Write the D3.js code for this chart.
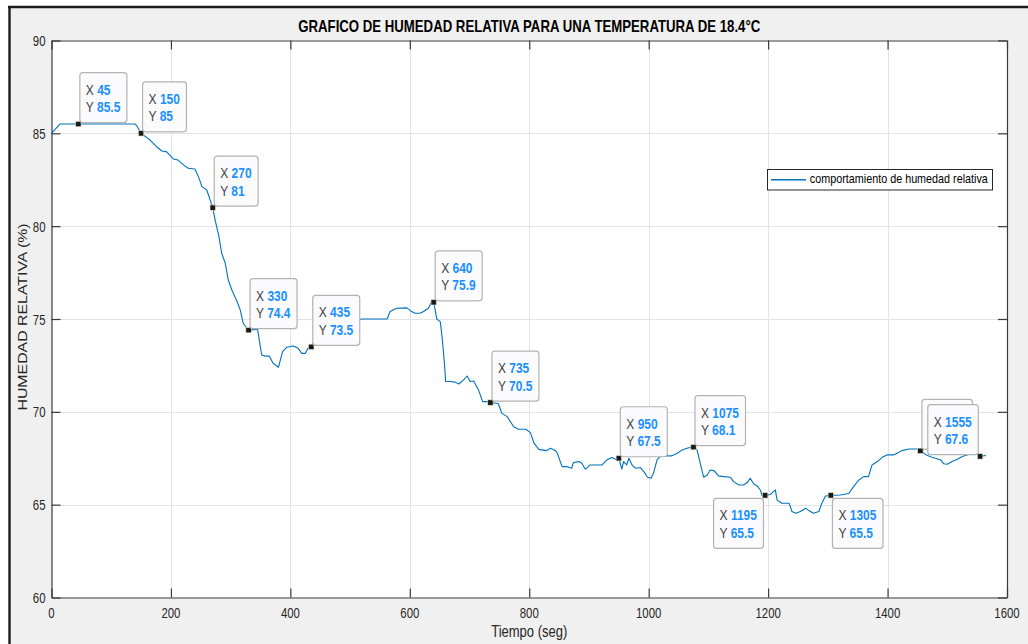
<!DOCTYPE html>
<html>
<head>
<meta charset="utf-8">
<script src="https://cdn.jsdelivr.net/npm/d3@7"></script>
<style>
  html, body { margin: 0; padding: 0; background: #ffffff; }
  svg { display: block; font-family: "Liberation Sans", Arial, Helvetica, sans-serif; }
</style>
</head>
<body>
<svg id="fig" width="1028" height="644"></svg>
<script>
// Humedad relativa medida en el tiempo (T = 18.4 °C)
const tiempo = [
  0, 14, 45, 100, 140, 143, 150, 165, 176, 185, 193, 204, 212, 221, 229, 240, 246, 252, 260, 270,
  274, 280, 285, 291, 296, 302, 310, 316, 321, 327, 330, 345, 352, 358, 365, 371, 380, 387, 394, 405,
  413, 419, 425, 430, 435, 441, 455, 480, 505, 520, 562, 567, 578, 595, 603, 609, 617, 623, 631, 637,
  640, 643, 645, 651, 654, 658, 660, 668, 676, 682, 690, 696, 701, 707, 715, 722, 732, 735, 748, 754,
  763, 774, 782, 794, 802, 808, 816, 828, 836, 844, 847, 855, 863, 871, 874, 883, 888, 894, 899, 902,
  922, 930, 938, 947, 950, 955, 958, 963, 967, 972, 978, 986, 992, 998, 1004, 1008, 1014, 1019, 1028, 1039,
  1048, 1056, 1064, 1071, 1075, 1081, 1085, 1089, 1092, 1098, 1103, 1110, 1117, 1126, 1137, 1142, 1151, 1159, 1165, 1170,
  1176, 1182, 1187, 1190, 1195, 1204, 1212, 1215, 1223, 1235, 1240, 1246, 1254, 1263, 1268, 1276, 1285, 1290, 1296, 1305,
  1321, 1335, 1343, 1352, 1360, 1368, 1374, 1383, 1391, 1399, 1410, 1416, 1424, 1436, 1452, 1455, 1465, 1474, 1480, 1489,
  1494, 1500, 1508, 1517, 1525, 1533, 1544, 1553, 1555, 1565
];
const humedad = [
  85.0, 85.5, 85.5, 85.5, 85.5, 85.4, 85.0, 84.64, 84.28, 84.05, 84.0, 83.62, 83.56, 83.3, 83.12, 83.08, 82.67, 82.13, 81.95, 81.0,
  80.33, 79.5, 78.54, 78.0, 77.1, 76.56, 76.0, 75.49, 74.77, 74.5, 74.4, 74.45, 73.06, 73.0, 73.0, 72.62, 72.4, 73.24, 73.48, 73.55,
  73.42, 73.15, 73.15, 73.45, 73.5, 73.87, 74.2, 74.7, 74.9, 75.0, 75.0, 75.4, 75.58, 75.6, 75.4, 75.31, 75.31, 75.4, 75.58, 75.94,
  75.9, 75.4, 75.0, 74.86, 74.05, 72.62, 71.63, 71.63, 71.6, 71.5, 71.72, 71.93, 71.63, 71.66, 71.18, 70.55, 70.55, 70.5, 70.45, 69.93,
  69.74, 69.2, 69.06, 69.06, 68.88, 68.31, 67.98, 67.91, 68.04, 67.91, 67.77, 67.05, 67.05, 66.96, 67.27, 67.32, 67.23, 66.91, 67.05, 67.14,
  67.14, 67.41, 67.54, 67.41, 67.5, 66.91, 67.32, 67.14, 67.5, 67.14, 66.96, 67.0, 66.78, 66.48, 66.42, 66.7, 67.41, 67.59, 67.63, 67.63,
  67.77, 67.95, 68.04, 68.09, 68.1, 67.95, 67.41, 66.87, 66.48, 66.6, 66.87, 66.82, 66.55, 66.51, 66.48, 66.24, 66.06, 66.06, 66.19, 66.42,
  66.11, 66.0, 65.79, 65.47, 65.5, 65.55, 65.8, 65.26, 65.08, 65.08, 64.63, 64.54, 64.63, 64.81, 64.68, 64.54, 64.63, 65.08, 65.47, 65.5,
  65.52, 65.6, 65.97, 66.33, 66.51, 66.51, 67.14, 67.32, 67.55, 67.68, 67.68, 67.77, 67.91, 68.0, 68.0, 67.9, 67.68, 67.55, 67.5, 67.41,
  67.2, 67.18, 67.32, 67.45, 67.59, 67.68, 67.77, 67.68, 67.6, 67.65
];

// Puntos marcados (data tips), esquina desde la que se abre cada recuadro,
// y si su texto queda a la vista (el de 1455 queda tapado por el de 1555)
const tipX    = [45, 150, 270, 330, 435, 640, 735, 950, 1075, 1195, 1305, 1455, 1555];
const tipY    = [85.5, 85, 81, 74.4, 73.5, 75.9, 70.5, 67.5, 68.1, 65.5, 65.5, 67.9, 67.6];
const tipDir  = ["ur", "ur", "ur", "ur", "ur", "ur", "ur", "ur", "ur", "ll", "lr", "ur", "ul"];
const tipShow = [true, true, true, true, true, true, true, true, true, true, true, false, true];

const xTicks = [0, 200, 400, 600, 800, 1000, 1200, 1400, 1600];
const yTicks = [60, 65, 70, 75, 80, 85, 90];

const titulo = "GRAFICO DE HUMEDAD RELATIVA PARA UNA TEMPERATURA DE 18.4°C";
const etiquetaX = "Tiempo (seg)";
const etiquetaY = "HUMEDAD RELATIVA (%)";
const leyenda = "comportamiento de humedad relativa";

// ---- layout ----
const SY = 1.22;               // tall glyph proportions
const L = 51.5, R = 1007, T = 40.5, B = 597.5;
const lineColor = "#0072BD";
const valueColor = "#1a8fff";
const axisColor = "#3a3a3a";
const tickTextColor = "#262626";

const x = d3.scaleLinear().domain([0, 1600]).range([L, R]);
const y = d3.scaleLinear().domain([60, 90]).range([B, T]);

const svg = d3.select("#fig");

// figure background with window border
svg.append("rect").attr("x", 9).attr("y", 7).attr("width", 1019).attr("height", 637).attr("fill", "#f0f0f0");
svg.append("line").attr("x1", 9.5).attr("x2", 9.5).attr("y1", 6).attr("y2", 644).attr("stroke", "#1a1a1a").attr("stroke-width", 2.4);
svg.append("line").attr("x1", 8).attr("x2", 1028).attr("y1", 7).attr("y2", 7).attr("stroke", "#1a1a1a").attr("stroke-width", 2.4);

// axes area
svg.append("rect").attr("x", L).attr("y", T).attr("width", R - L).attr("height", B - T).attr("fill", "#ffffff");

// grid
const grid = svg.append("g").attr("stroke", "#e3e3e3").attr("stroke-width", 1);
grid.selectAll(".gx").data(xTicks.slice(1, -1)).join("line")
  .attr("x1", d => Math.round(x(d)) + 0.5).attr("x2", d => Math.round(x(d)) + 0.5)
  .attr("y1", T).attr("y2", B);
grid.selectAll(".gy").data(yTicks.slice(1, -1)).join("line")
  .attr("y1", d => Math.round(y(d)) + 0.5).attr("y2", d => Math.round(y(d)) + 0.5)
  .attr("x1", L).attr("x2", R);

// helper: text with tall proportions
function tallText(parent, px, py, str, opts = {}) {
  return parent.append("text")
    .attr("transform", `translate(${px},${py}) scale(1,${SY})`)
    .attr("font-size", opts.size || 12)
    .attr("fill", opts.fill || "#000")
    .attr("text-anchor", opts.anchor || "start")
    .attr("font-weight", opts.weight || "normal")
    .text(str);
}

// axes with inward ticks
function styleAxis(g) {
  g.select(".domain").attr("stroke", axisColor).attr("stroke-width", 1.2);
  g.selectAll(".tick line").attr("stroke", axisColor).attr("stroke-width", 1.2);
  g.selectAll(".tick text").remove();
}
const axB = svg.append("g").attr("transform", `translate(0,${B})`)
  .call(d3.axisBottom(x).tickValues(xTicks).tickSizeInner(-9).tickSizeOuter(0));
styleAxis(axB);
const axT = svg.append("g").attr("transform", `translate(0,${T})`)
  .call(d3.axisTop(x).tickValues(xTicks).tickSizeInner(-9).tickSizeOuter(0));
styleAxis(axT);
const axL = svg.append("g").attr("transform", `translate(${L},0)`)
  .call(d3.axisLeft(y).tickValues(yTicks).tickSizeInner(-9).tickSizeOuter(0));
styleAxis(axL);
const axR = svg.append("g").attr("transform", `translate(${R},0)`)
  .call(d3.axisRight(y).tickValues(yTicks).tickSizeInner(-9).tickSizeOuter(0));
styleAxis(axR);

// tick labels
const tl = svg.append("g");
xTicks.forEach(v => tallText(tl, x(v), 618, d3.format("d")(v), { size: 11.4, fill: tickTextColor, anchor: "middle" }));
yTicks.forEach(v => tallText(tl, 45.5, y(v) + 5.5, d3.format("d")(v), { size: 11.4, fill: tickTextColor, anchor: "end" }));

// series
const serie = tiempo.map((t, i) => [t, humedad[i]]);
svg.append("path")
  .datum(serie)
  .attr("fill", "none")
  .attr("stroke", lineColor)
  .attr("stroke-width", 1.1)
  .attr("stroke-linejoin", "round")
  .attr("d", d3.line().x(d => x(d[0])).y(d => y(d[1])));

// data tips
const tips = svg.append("g");
tipX.forEach((tx, i) => {
  const mx = x(tx), my = y(tipY[i]);
  const g = tips.append("g");
  // marker
  g.append("rect").attr("x", mx - 2.7).attr("y", my - 2.7).attr("width", 5.4).attr("height", 5.4)
    .attr("fill", "#1a1a1a").attr("stroke", "#e8e4c8").attr("stroke-width", 0.6);

  const box = g.append("rect").attr("rx", 3).attr("ry", 3)
    .attr("fill", "#fbfbfe").attr("stroke", "#b3b3b3").attr("stroke-width", 1.2);
  const tg = g.append("g");
  const l1 = tg.append("text").attr("font-size", 12);
  l1.append("tspan").attr("fill", "#404040").text("X ");
  l1.append("tspan").attr("fill", valueColor).attr("font-weight", "bold").text(String(tx));
  const l2 = tg.append("text").attr("font-size", 12);
  l2.append("tspan").attr("fill", "#404040").text("Y ");
  l2.append("tspan").attr("fill", valueColor).attr("font-weight", "bold").text(String(tipY[i]));

  const w = Math.max(l1.node().getComputedTextLength(), l2.node().getComputedTextLength()) + 12.5;
  const h = 50;
  const dir = tipDir[i];
  let bx, by;
  if (dir === "ur") { bx = mx + 1.5; by = my - 1.5 - h; }
  else if (dir === "ul") { bx = mx - 1.8 - w; by = my - 1.7 - h; }
  else if (dir === "lr") { bx = mx + 1.6; by = my + 3; }
  else { bx = mx - 1.7 - w; by = my + 3; }
  box.attr("x", bx).attr("y", by).attr("width", w).attr("height", h);
  if (tipShow[i]) {
    l1.attr("transform", `translate(${bx + 6},${by + 22}) scale(1,${SY})`);
    l2.attr("transform", `translate(${bx + 6},${by + 39.5}) scale(1,${SY})`);
  } else {
    tg.remove();   // covered by the next tip's box
  }
});

// legend
const lg = svg.append("g");
lg.append("rect").attr("x", 767.5).attr("y", 169.5).attr("width", 225).attr("height", 20.5)
  .attr("fill", "#ffffff").attr("stroke", "#262626").attr("stroke-width", 1);
lg.append("line").attr("x1", 771).attr("x2", 806).attr("y1", 179.8).attr("y2", 179.8)
  .attr("stroke", lineColor).attr("stroke-width", 1.4);
tallText(lg, 809.8, 183, leyenda, { size: 10.8, fill: "#000" });

// title and axis labels
tallText(svg, (L + R) / 2, 32, titulo, { size: 13.2, weight: "bold", anchor: "middle", fill: "#000" });
tallText(svg, (L + R) / 2, 637, etiquetaX, { size: 13, anchor: "middle", fill: tickTextColor });
svg.append("text")
  .attr("transform", `translate(26.5,${(T + B) / 2 - 2}) rotate(-90) scale(${SY},1)`)
  .attr("font-size", 13).attr("fill", tickTextColor).attr("text-anchor", "middle")
  .text(etiquetaY);
</script>
</body>
</html>
